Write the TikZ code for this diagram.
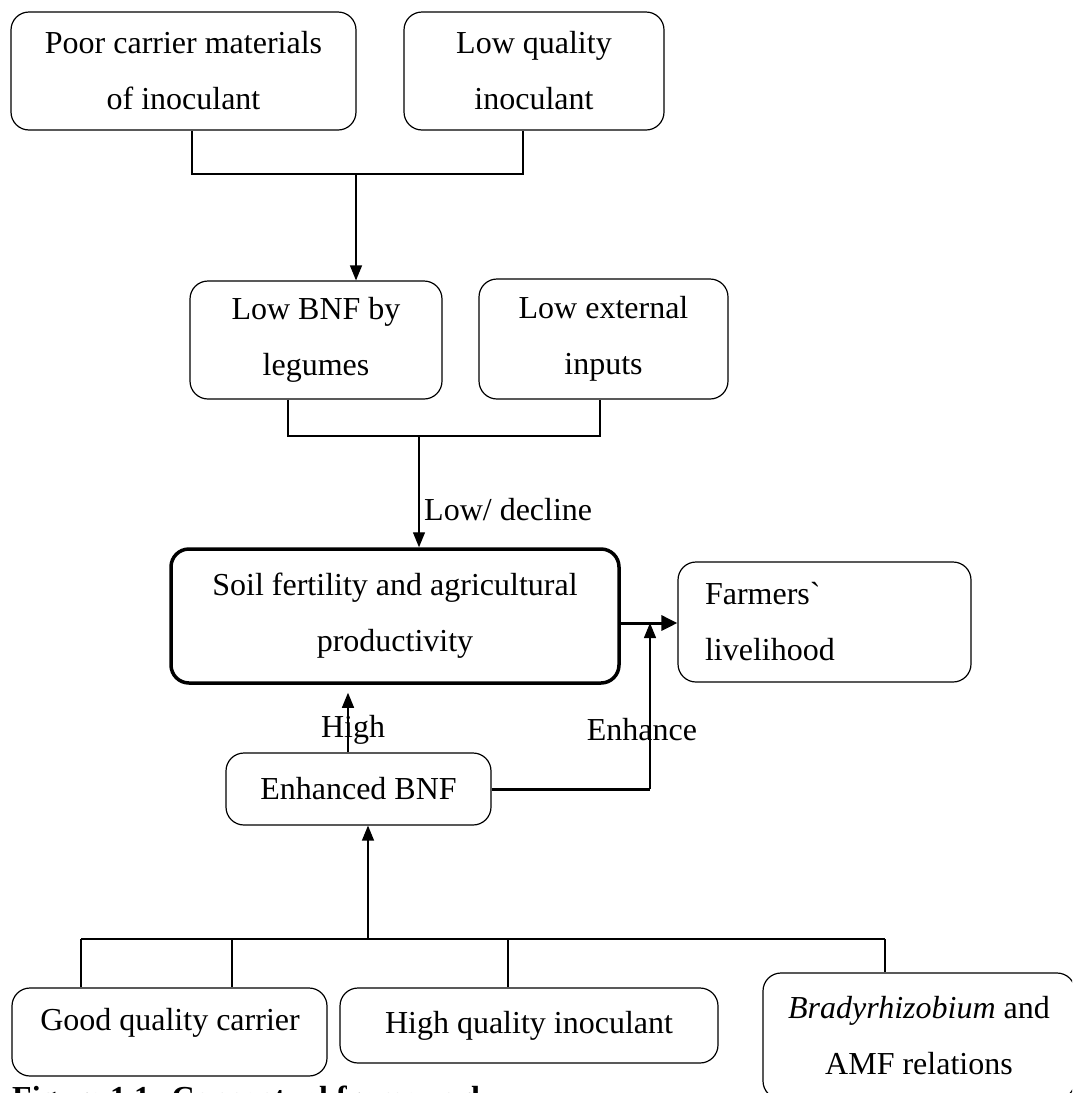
\documentclass[tikz,border=0pt]{standalone}
\usepackage{fontspec}
\newfontfamily\lib{Liberation Serif}
\usetikzlibrary{arrows.meta}
\begin{document}
\begin{tikzpicture}[x=1pt,y=-1pt,
  box/.style={draw, rounded corners=18pt, line width=1.2pt, align=center, inner sep=0pt,
    font=\lib\fontsize{32}{56}\selectfont},
  lbl/.style={inner sep=0pt, font=\lib\fontsize{32}{40}\selectfont},
  conn/.style={line width=1.3pt},
  thickconn/.style={line width=3pt},
  arr/.style={conn, -{Triangle[length=15pt,width=12pt]}},
  arrthick/.style={thickconn, -{Triangle[length=16pt,width=15pt]}}]
\useasboundingbox (0,0) rectangle (1072,1093);
\clip (0,0) rectangle (1072,1093);
\fill[white] (0,0) rectangle (1072,1093);

% boxes
\node[box, minimum width=345pt, minimum height=118pt] (poor) at (183.5,71) {Poor carrier materials\\of inoculant};
\node[box, minimum width=260pt, minimum height=118pt] (lowq) at (534,71) {Low quality\\inoculant};
\node[box, minimum width=252pt, minimum height=118pt] (lowbnf) at (316,340) {Low BNF by\\legumes};
\node[box, minimum width=249pt, minimum height=120pt] (lowext) at (603.5,339) {Low external\\inputs};
\node[box, line width=3.5pt, minimum width=448pt, minimum height=134pt] (soil) at (395,616) {Soil fertility and agricultural\\productivity};
\node[box, align=left, text width=239pt, inner xsep=27pt, minimum height=120pt] (farm) at (824.5,622) {Farmers`\\livelihood};
\node[box, minimum width=265pt, minimum height=72pt] (enh) at (358.5,789) {Enhanced BNF};
\node[box, minimum width=315pt, minimum height=88pt] (good) at (169.5,1032) {};
\node[lbl] (goodtxt) at (170,1023) {Good quality carrier};
\node[box, minimum width=378pt, minimum height=75pt] (highq) at (529,1025.5) {High quality inoculant};
\node[box, minimum width=312pt, minimum height=126pt] (brady) at (919,1036) {\textit{Bradyrhizobium} and\\AMF relations};

% top connector
\coordinate (p1) at (192,174);
\coordinate (q1) at (523,174);
\coordinate (j1) at (356,174);
\draw[conn] (poor.south -| p1) -- (p1) -- (q1) -- (lowq.south -| q1);
\draw[arr] (j1) -- (lowbnf.north -| j1);

% second connector
\coordinate (p2) at (288,436);
\coordinate (q2) at (600,436);
\coordinate (j2) at (419,436);
\draw[conn] (lowbnf.south -| p2) -- (p2) -- (q2) -- (lowext.south -| q2);
\draw[arr] (j2) -- (soil.north -| j2);
\node[lbl, anchor=west] (lowdecl) at (424,510) {Low/ decline};

% soil -> farmers
\coordinate (s1) at (0,623);
\draw[arrthick] (soil.east |- s1) -- (farm.west |- s1);

% enhanced BNF -> junction
\coordinate (e1) at (650,789);
\coordinate (e2) at (650,623);
\draw[thickconn] (enh.east |- e1) -- (e1);
\draw[arr] (e1) -- (e2);
\node[lbl] (enhlbl) at (642,730) {Enhance};

% high
\coordinate (h1) at (348,700);
\draw[arr, shorten >=8pt] (enh.north -| h1) -- (soil.south -| h1);
\node[lbl] (highlbl) at (353,730) {High};

% bottom bus
\coordinate (bl) at (81,939);
\coordinate (br) at (885,939);
\coordinate (bm) at (368,939);
\coordinate (bg) at (232,939);
\coordinate (bh) at (508,939);
\draw[line width=2.5pt] (bl) -- (br);
\draw[conn] (bl) -- (good.north -| bl);
\draw[conn] (bg) -- (good.north -| bg);
\draw[conn] (bh) -- (highq.north -| bh);
\draw[conn] (br) -- (brady.north -| br);
\draw[arr] (bm) -- (enh.south -| bm);

% caption (cut off at the bottom)
\node[lbl, anchor=base west, font=\lib\bfseries\fontsize{32}{40}\selectfont] (cap) at (12,1108) {Figure 1.1: Conceptual framework};
\end{tikzpicture}
\end{document}
